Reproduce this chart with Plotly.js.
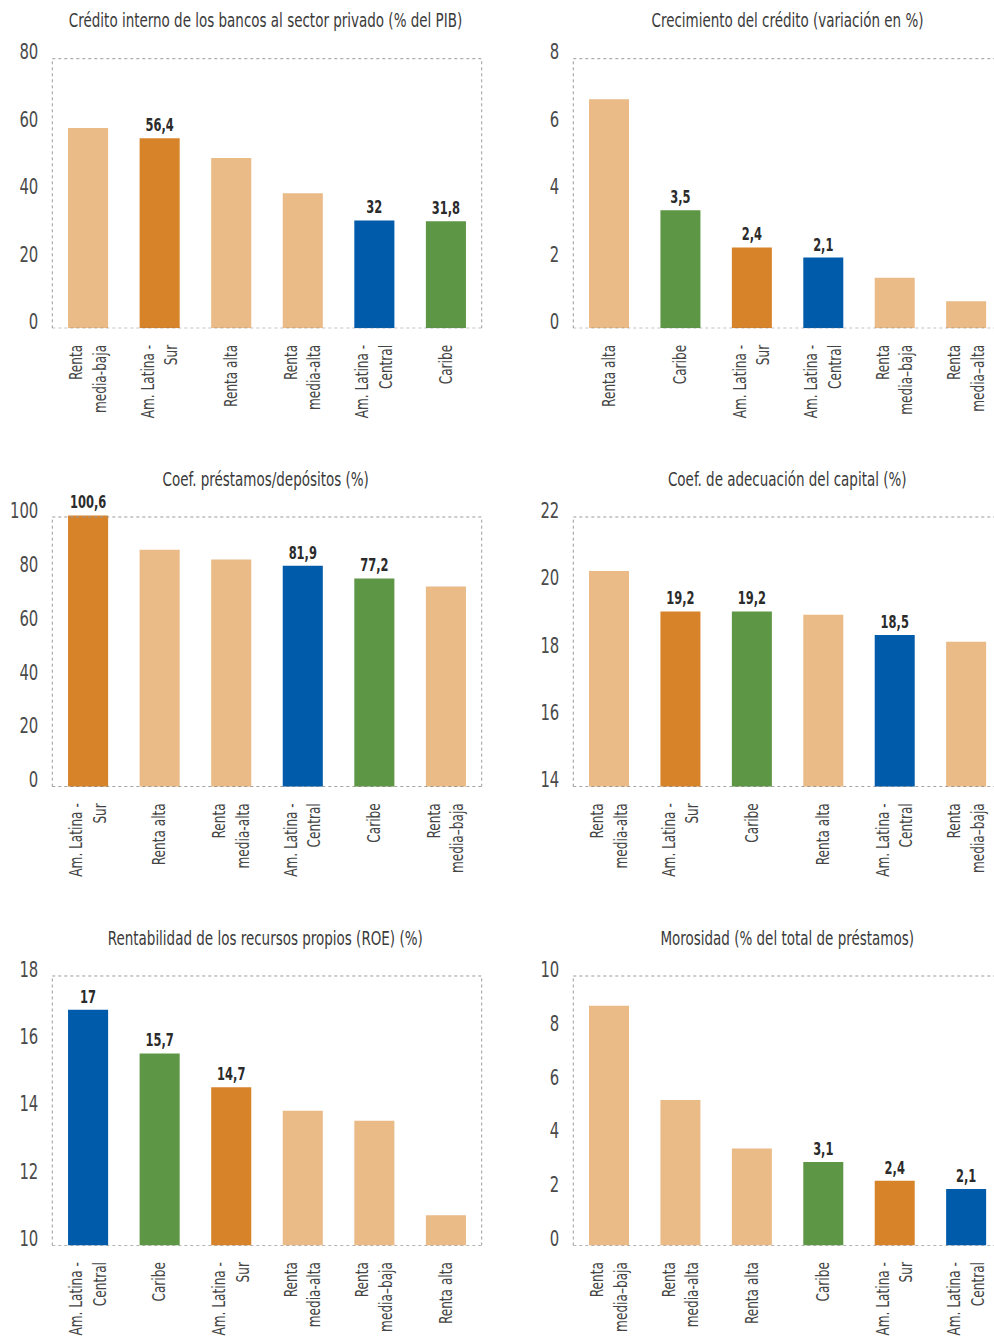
<!DOCTYPE html>
<html>
<head>
<meta charset="utf-8">
<script src="https://cdn.plot.ly/plotly-3.0.1.min.js"></script>
<style>html,body{margin:0;padding:0;background:#fff;}#chart{width:994px;height:1337px;}</style>
</head>
<body>
<div id="chart"></div>
<script>
// ---- Data ----
const titles = [
  "Crédito interno de los bancos al sector privado (% del PIB)",
  "Crecimiento del crédito (variación en %)",
  "Coef. préstamos/depósitos (%)",
  "Coef. de adecuación del capital (%)",
  "Rentabilidad de los recursos propios (ROE) (%)",
  "Morosidad (% del total de préstamos)"
];

const cats1 = ["Renta<br>media-baja", "Am. Latina -<br>Sur", "Renta alta", "Renta<br>media-alta", "Am. Latina -<br>Central", "Caribe"];
const vals1 = [59.4, 56.4, 50.5, 40.1, 32, 31.8];

const cats2 = ["Renta alta", "Caribe", "Am. Latina -<br>Sur", "Am. Latina -<br>Central", "Renta<br>media–baja", "Renta<br>media–alta"];
const vals2 = [6.8, 3.5, 2.4, 2.1, 1.5, 0.8];

const cats3 = ["Am. Latina -<br>Sur", "Renta alta", "Renta<br>media-alta", "Am. Latina -<br>Central", "Caribe", "Renta<br>media–baja"];
const vals3 = [100.6, 87.9, 84.2, 81.9, 77.2, 74.2];

const cats4 = ["Renta<br>media-alta", "Am. Latina -<br>Sur", "Caribe", "Renta alta", "Am. Latina -<br>Central", "Renta<br>media–baja"];
const vals4 = [20.4, 19.2, 19.2, 19.1, 18.5, 18.3];

const cats5 = ["Am. Latina -<br>Central", "Caribe", "Am. Latina -<br>Sur", "Renta<br>media-alta", "Renta<br>media–baja", "Renta alta"];
const vals5 = [17, 15.7, 14.7, 14.0, 13.7, 10.9];

const cats6 = ["Renta<br>media–baja", "Renta<br>media-alta", "Renta alta", "Caribe", "Am. Latina -<br>Sur", "Am. Latina -<br>Central"];
const vals6 = [8.9, 5.4, 3.6, 3.1, 2.4, 2.1];

const yRanges = [[0, 80], [0, 8], [0, 100], [14, 22], [10, 18], [0, 10]];
const yTicks = [[0, 20, 40, 60, 80], [0, 2, 4, 6, 8], [0, 20, 40, 60, 80, 100], [14, 16, 18, 20, 22], [10, 12, 14, 16, 18], [0, 2, 4, 6, 8, 10]];

// ---- Styling ----
const FONT = "'DejaVu Sans Condensed', 'Liberation Sans Narrow', sans-serif";
const SX = 0.75; // horizontal condensing of all texts
const COL = {peach: "#EABA87", orange: "#D7832A", blue: "#005BAA", green: "#5D9644"};
function colorOf(c) {
  if (c.indexOf("Sur") >= 0) return COL.orange;
  if (c.indexOf("Central") >= 0) return COL.blue;
  if (c.indexOf("Caribe") >= 0) return COL.green;
  return COL.peach;
}
function labelOf(c, v) {
  return colorOf(c) === COL.peach ? "" : String(v).replace(".", ",");
}

const allCats = [cats1, cats2, cats3, cats4, cats5, cats6];
const allVals = [vals1, vals2, vals3, vals4, vals5, vals6];

const H = 1337, W = 994;
const PAD = 0.03; // headroom above the frame (fraction of the range)
const colX = [[52.3 / W, 481.7 / W], [573.3 / W, 1.0]];
const xRanges = [[-0.5, 5.5], [-0.5, 5.39]];
const rowPx = [[58.7, 328.3], [517, 786.7], [976, 1245.5]];
const titleX = [265.5 / W, 787 / W];
const titleY = [1 - 20 / H, 1 - 479 / H, 1 - 938 / H];

const data = [];
const layout = {
  width: W, height: H,
  margin: {l: 0, r: 0, t: 0, b: 0},
  paper_bgcolor: "#fff", plot_bgcolor: "#fff",
  showlegend: false,
  font: {family: FONT, color: "#444"},
  shapes: [], annotations: []
};

for (let i = 0; i < 6; i++) {
  const col = i % 2, row = Math.floor(i / 2);
  const sfx = i === 0 ? "" : String(i + 1);
  const cats = allCats[i], vals = allVals[i];
  const lo = yRanges[i][0], hi = yRanges[i][1];
  const topPx = rowPx[row][0], botPx = rowPx[row][1];
  const topPad = topPx - (botPx - topPx) * PAD;
  data.push({
    type: "bar",
    x: cats.map((c, k) => k),
    y: vals.map(v => v - lo),
    base: lo,
    xaxis: "x" + sfx, yaxis: "y" + sfx,
    marker: {color: cats.map(colorOf)},
    width: 0.56,
    text: cats.map((c, k) => labelOf(c, vals[k])),
    textposition: "outside",
    constraintext: "none",
    textfont: {family: FONT, size: 17, color: "#2b2b2b", weight: "bold"},
    cliponaxis: false,
    hoverinfo: "none"
  });

  layout["xaxis" + sfx] = {
    domain: colX[col],
    anchor: "y" + sfx,
    range: xRanges[col],
    tickmode: "array",
    tickvals: cats.map((c, k) => k),
    ticktext: cats,
    tickangle: -90,
    ticks: "",
    showgrid: false, zeroline: false, showline: false,
    ticklabelstandoff: 12,
    tickfont: {family: FONT, size: 18, color: "#444"},
    fixedrange: true
  };
  layout["yaxis" + sfx] = {
    domain: [1 - botPx / H, 1 - topPad / H],
    anchor: "x" + sfx,
    range: [lo, hi + (hi - lo) * PAD],
    tickmode: "array",
    tickvals: yTicks[i],
    ticks: "",
    showgrid: false, zeroline: false, showline: false,
    ticklabelshift: -7,
    ticklabelstandoff: 13,
    tickfont: {family: FONT, size: 22, color: "#4a4a4a"},
    fixedrange: true
  };
  const xr = "x" + sfx + " domain", yr = "y" + sfx;
  const frame = [
    [0, hi, 1, hi, "#9a9a9a"],
    [0, lo, 0, hi, "#9a9a9a"],
    [0, lo, 1, lo, "#6a6a6a"]
  ];
  if (col === 0) frame.push([1, lo, 1, hi, "#9a9a9a"]);
  frame.forEach(f => layout.shapes.push({
    type: "line", xref: xr, yref: yr,
    x0: f[0], y0: f[1], x1: f[2], y1: f[3],
    line: {color: f[4], width: 1, dash: "dot"},
    layer: "above"
  }));
  layout.annotations.push({
    text: titles[i], xref: "paper", yref: "paper",
    x: titleX[col], y: titleY[row], xanchor: "center", yanchor: "middle",
    showarrow: false,
    font: {family: FONT, size: 20, color: "#3a3a3a"}
  });
}

function condense(sx) {
  document.querySelectorAll("#chart svg text").forEach(t => {
    if (!t.textContent) return;
    let bb;
    try { bb = t.getBBox(); } catch (e) { return; }
    if (!bb || !bb.width) return;
    const anchor = t.getAttribute("text-anchor") || window.getComputedStyle(t).textAnchor || "start";
    const ax = anchor === "end" ? bb.x + bb.width : (anchor === "middle" ? bb.x + bb.width / 2 : bb.x);
    const tr = t.getAttribute("transform") || "";
    t.setAttribute("transform", tr + " translate(" + ax + ",0) scale(" + sx + ",1) translate(" + (-ax) + ",0)");
  });
}

Plotly.newPlot("chart", data, layout, {staticPlot: true, displayModeBar: false}).then(() => condense(SX));
</script>
</body>
</html>
